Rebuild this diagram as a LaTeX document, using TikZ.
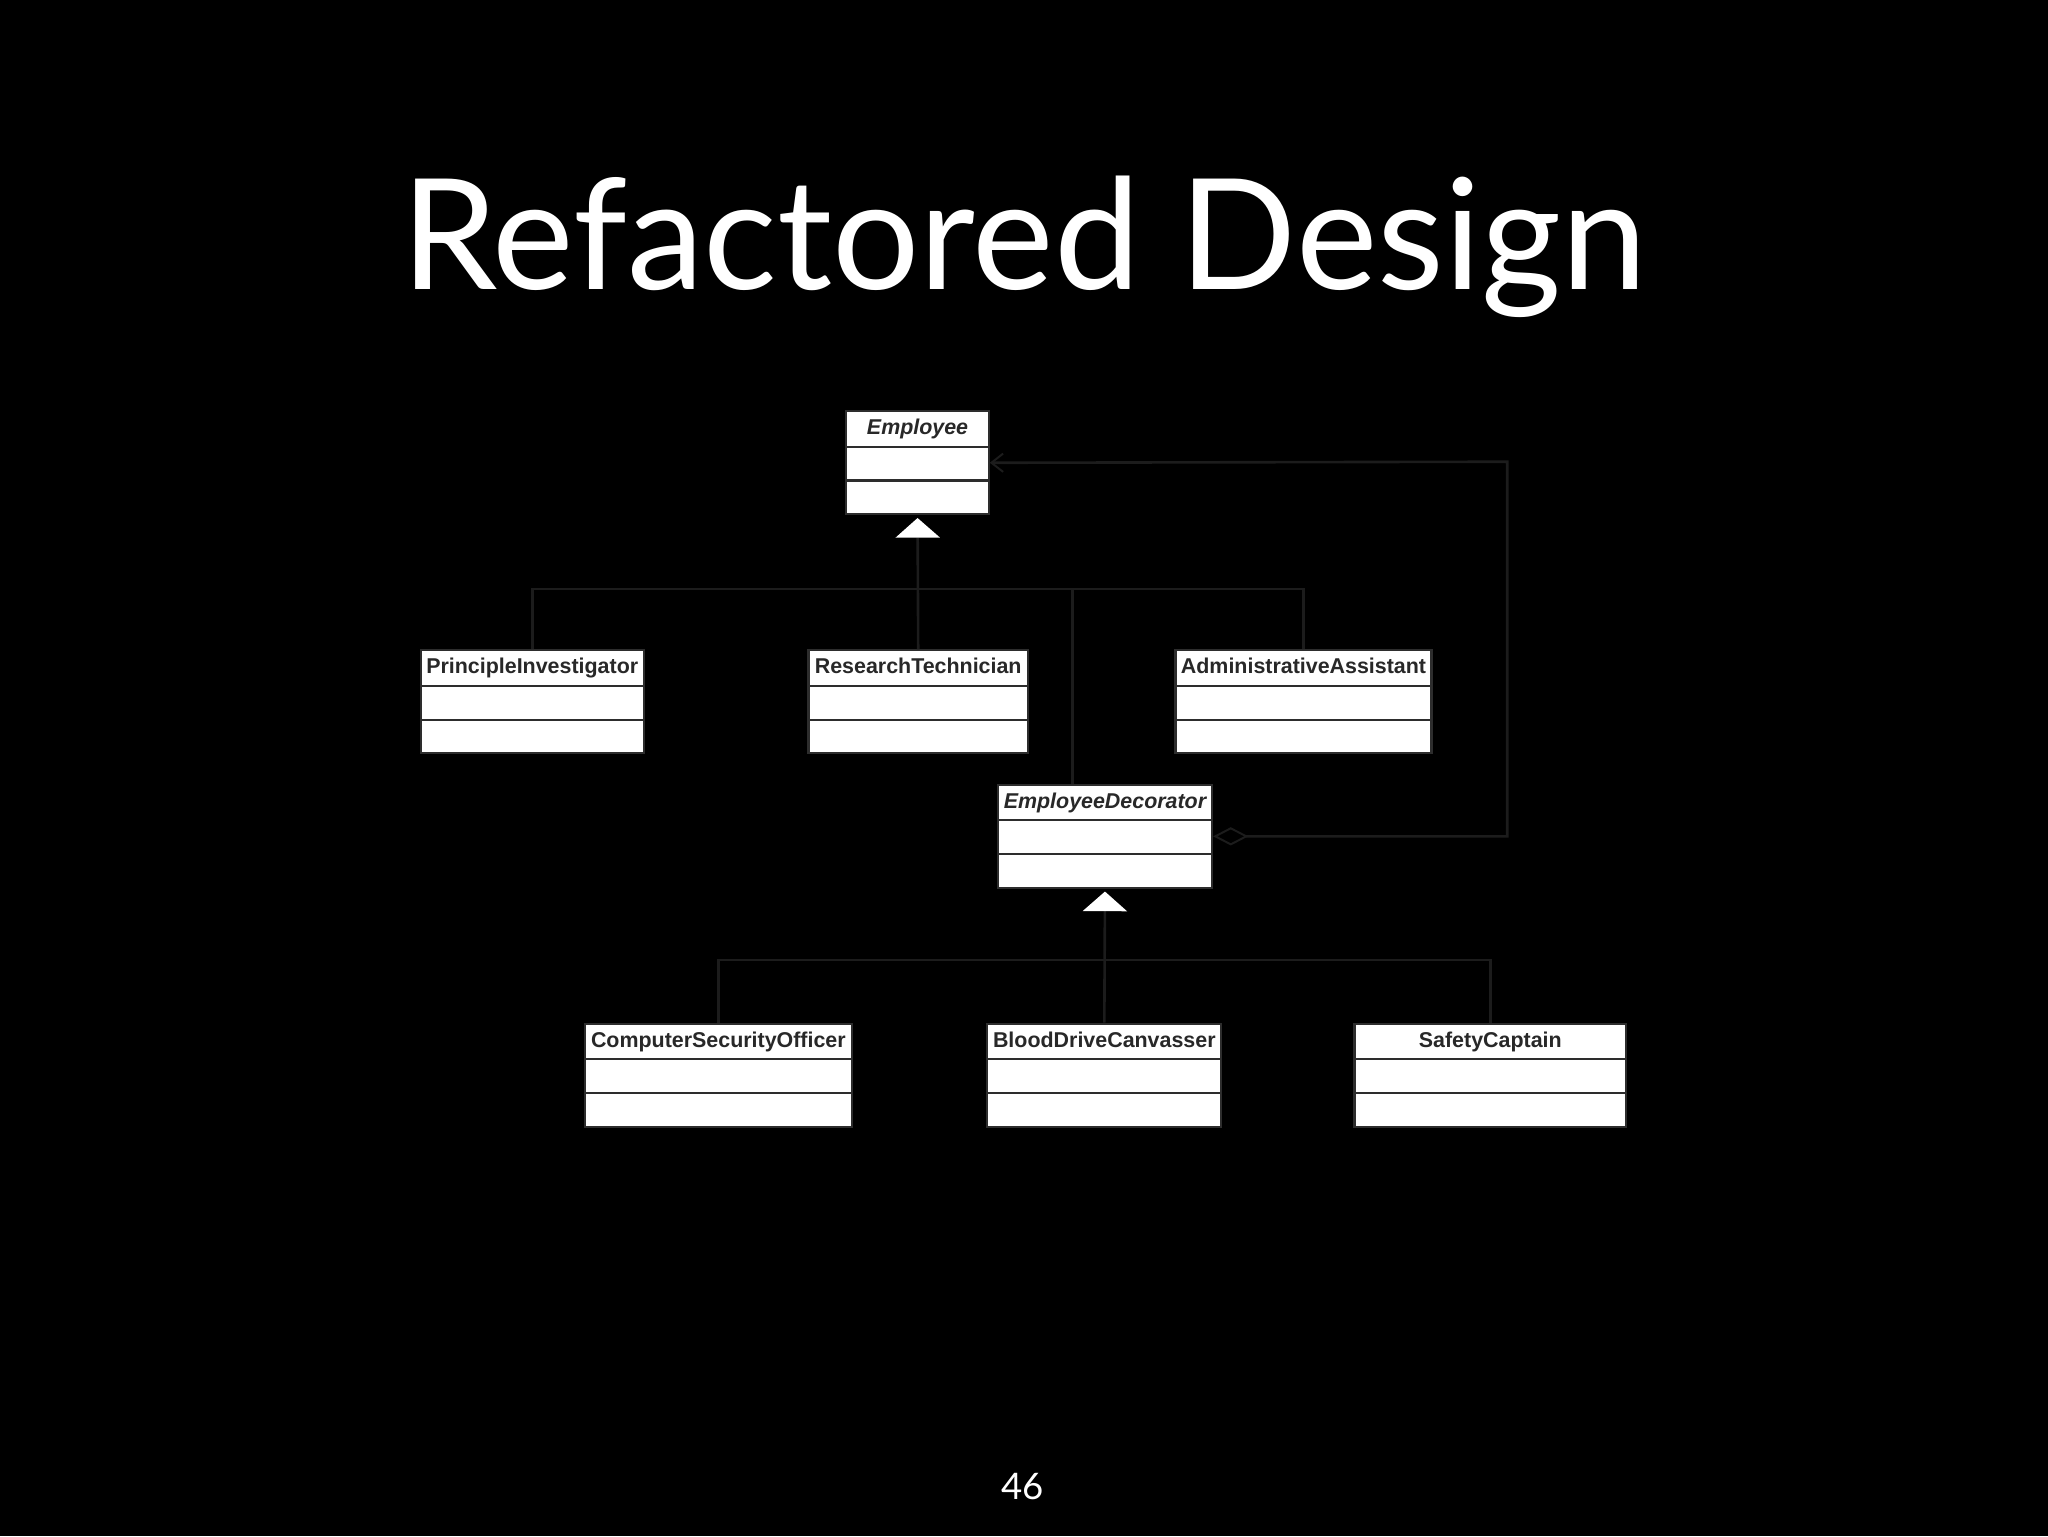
\documentclass[tikz,border=0pt]{standalone}
\usepackage{fontspec}
\usetikzlibrary{arrows.meta}
\newfontfamily\titlefont{Lato}
\newfontfamily\umlfont{Liberation Sans}
\definecolor{conncol}{RGB}{28,28,28}
\definecolor{boxline}{RGB}{45,45,45}
\definecolor{umltext}{RGB}{40,40,40}
\tikzset{
  classbox/.style={draw=boxline, fill=white, line width=1.6pt, minimum height=79pt, inner sep=0pt},
  divline/.style={draw=boxline, line width=1.8pt},
  lbl/.style={font=\umlfont\bfseries\fontsize{16.4}{18}\selectfont, text=umltext, inner sep=0pt, anchor=base},
  lbli/.style={font=\umlfont\bfseries\itshape\fontsize{16.4}{18}\selectfont, text=umltext, inner sep=0pt, anchor=base},
  conn/.style={draw=conncol, line width=2pt},
  gentip/.style={-{Triangle[width=34pt,length=15pt,color=white,fill=white,line width=0pt]}, shorten >=2pt},
  aggtips/.style={{Diamond[open,length=27pt,width=14pt,line width=1.5pt]}-{Straight Barb[length=9pt,width=14pt,line width=1.5pt]}}
}
\newcommand\umlclass[6]{%
  \node[classbox, minimum width=#4pt, anchor=north] (#1) at (#2,#3) {};
  \draw[divline] ([yshift=-28pt]#1.north west) -- ([yshift=-28pt]#1.north east);
  \draw[divline] ([yshift=-54pt]#1.north west) -- ([yshift=-54pt]#1.north east);
  \node[#6] (#1-t) at ([yshift=-19pt]#1.north) {#5};
}
\begin{document}
\begin{tikzpicture}[x=1pt,y=-1pt]
\fill[black] (0,0) rectangle (1568,1176);
\path[use as bounding box] (0,0) rectangle (1568,1176);

\node[font=\titlefont\fontsize{118}{130}\selectfont, text=white, anchor=base, inner sep=0pt] (title) at (784,222) {Refactored Design};
\node[font=\titlefont\fontsize{28}{32}\selectfont, text=white, inner sep=0pt] (pagenum) at (783,1138) {46};

\umlclass{emp}{702.5}{314}{109}{Employee}{lbli}
\umlclass{pi}{407.5}{497}{171}{PrincipleInvestigator}{lbl}
\umlclass{rt}{703}{497}{168}{ResearchTechnician}{lbl}
\umlclass{adm}{998}{497}{196}{AdministrativeAssistant}{lbl}
\umlclass{ed}{846}{600}{164}{EmployeeDecorator}{lbli}
\umlclass{cso}{550}{783}{204}{ComputerSecurityOfficer}{lbl}
\umlclass{bdc}{845.5}{783}{179}{BloodDriveCanvasser}{lbl}
\umlclass{sc}{1141}{783}{208}{SafetyCaptain}{lbl}

\coordinate (j1) at (703,451);
\coordinate (j2) at (846,735);
\coordinate (c1) at (1154,353.5);

% generalization to Employee
\draw[conn] (pi.north) |- (j1);
\draw[conn] (adm.north) |- (j1);
\draw[conn] ([xshift=-25pt]ed.north) |- (j1);
\draw[conn, gentip] (rt.north) -- (emp.south);

% generalization to EmployeeDecorator
\draw[conn] (cso.north) |- (j2);
\draw[conn] (sc.north) |- (j2);
\draw[conn, gentip] (bdc.north) -- (ed.south);

% aggregation
\draw[conn, aggtips] (ed.east) -| (c1) -- (emp.east);
\end{tikzpicture}
\end{document}
